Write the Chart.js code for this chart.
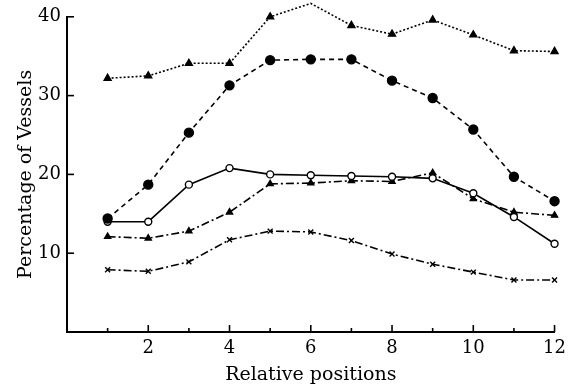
<!DOCTYPE html>
<html>
<head>
<meta charset="utf-8">
<script src="https://cdn.jsdelivr.net/npm/chart.js@4"></script>
<style>
	html, body { margin: 0; padding: 0; background: #fff; }
	#wrap { width: 572px; height: 389px; }
</style>
</head>
<body>
<div id="wrap"><canvas id="chart"></canvas></div>
<script>
const positions = [1, 2, 3, 4, 5, 6, 7, 8, 9, 10, 11, 12]
// top curve, dotted line with triangles
const dottedTriangles = [32.2, 32.5, 34.1, 34.1, 40.0, 41.7, 38.9, 37.8, 39.6, 37.7, 35.7, 35.6]
// dashed line with filled circles
const dashedDots = [14.4, 18.7, 25.3, 31.3, 34.5, 34.6, 34.6, 31.9, 29.7, 25.7, 19.7, 16.6]
// solid line with open circles
const solidCircles = [14.0, 14.0, 18.7, 20.8, 20.0, 19.9, 19.8, 19.7, 19.5, 17.6, 14.6, 11.2]
// dash-dot line with small triangles
const dashDotTriangles = [12.1, 11.9, 12.8, 15.2, 18.8, 18.9, 19.2, 19.1, 20.2, 16.9, 15.2, 14.8]
// dash-dot line with crosses
const dashDotCrosses = [7.9, 7.7, 8.9, 11.7, 12.8, 12.7, 11.6, 9.9, 8.6, 7.6, 6.6, 6.6]

const serif = '"DejaVu Serif", "Liberation Serif", serif'

function toPoints(values) {
	return values.map((v, i) => ({ x: positions[i], y: v }))
}

// the original has its tick marks pointing into the plot
const innerTicks = {
	id: 'innerTicks',
	afterDraw(chart) {
		const ctx = chart.ctx
		const xs = chart.scales.x
		const ys = chart.scales.y
		ctx.save()
		ctx.strokeStyle = '#000'
		ctx.lineWidth = 1.6
		xs.ticks.forEach(t => {
			if (t.value <= 0) return
			let px = xs.getPixelForValue(t.value)
			let len = t.value % 2 === 0 ? 7 : 4
			ctx.beginPath()
			ctx.moveTo(px, ys.bottom)
			ctx.lineTo(px, ys.bottom - len)
			ctx.stroke()
		})
		ys.ticks.forEach(t => {
			if (t.value === 0) return
			let py = ys.getPixelForValue(t.value)
			ctx.beginPath()
			ctx.moveTo(xs.left, py)
			ctx.lineTo(xs.left + 7, py)
			ctx.stroke()
		})
		ctx.restore()
	}
}

const lineBase = {
	borderColor: '#000',
	pointBorderColor: '#000',
	pointBackgroundColor: '#000',
	borderWidth: 1.6,
	pointBorderWidth: 1.4,
	fill: false,
	clip: false,
	tension: 0
}

const datasets = [
	{ ...lineBase, label: 'a', data: toPoints(dottedTriangles), borderDash: [2, 2], pointStyle: 'triangle', pointRadius: 4 },
	{ ...lineBase, label: 'b', data: toPoints(dashedDots), borderDash: [5, 4], pointStyle: 'circle', pointRadius: 4.5 },
	{ ...lineBase, label: 'c', data: toPoints(solidCircles), pointStyle: 'circle', pointRadius: 3.5, pointBackgroundColor: '#fff' },
	{ ...lineBase, label: 'd', data: toPoints(dashDotTriangles), borderDash: [8, 3, 2, 3], pointStyle: 'triangle', pointRadius: 3.5 },
	{ ...lineBase, label: 'e', data: toPoints(dashDotCrosses), borderDash: [8, 3, 2, 3], pointStyle: 'crossRot', pointRadius: 3.5 }
]

const chart = new Chart(document.querySelector('#chart'), {
	type: 'line',
	data: { datasets: datasets },
	options: {
		responsive: true,
		maintainAspectRatio: false,
		animation: false,
		layout: { padding: { top: 16, right: 10, bottom: 0, left: 0 } },
		plugins: { legend: { display: false }, tooltip: { enabled: false } },
		scales: {
			x: {
				type: 'linear',
				min: 0,
				max: 12,
				afterFit: s => { s.height = 57 },
				grid: { display: true, drawOnChartArea: false, drawTicks: false },
				border: { display: true, color: '#000', width: 2 },
				ticks: {
					stepSize: 1,
					padding: 6,
					color: '#000',
					font: { family: serif, size: 18 },
					callback: v => (v > 0 && v % 2 === 0 ? v : '')
				},
				title: { display: true, text: 'Relative positions', color: '#000', font: { family: serif, size: 19 }, padding: { top: 2, bottom: 3 } }
			},
			y: {
				min: 0,
				max: 40,
				afterFit: s => { s.width = 67 },
				grid: { display: true, drawOnChartArea: false, drawTicks: false },
				border: { display: true, color: '#000', width: 2 },
				ticks: {
					stepSize: 10,
					padding: 6,
					color: '#000',
					font: { family: serif, size: 18 },
					callback: v => (v === 0 ? '' : v)
				},
				title: { display: true, text: 'Percentage of Vessels', color: '#000', font: { family: serif, size: 19 }, padding: { top: 15, bottom: 4 } }
			}
		}
	},
	plugins: [innerTicks]
})
</script>
</body>
</html>
